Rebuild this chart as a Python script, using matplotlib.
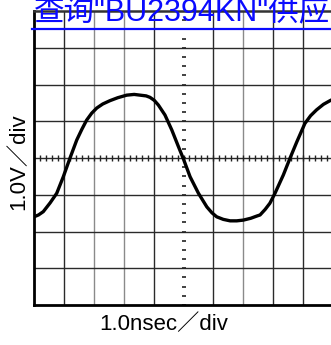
import matplotlib
matplotlib.use("Agg")
import numpy as np
import matplotlib.pyplot as plt
from matplotlib.lines import Line2D

plt.rcParams['font.family'] = ['Liberation Sans', 'Noto Sans CJK SC', 'DejaVu Sans']

# waveform, in divisions (x: 1.0 ns/div, y: 1.0 V/div)
t_div = [0.00, 0.15, 0.31, 0.54, 0.76, 0.98, 1.20, 1.43, 1.60, 1.76, 1.93, 2.10,
         2.30, 2.54, 2.80, 3.10, 3.35, 3.55, 3.75, 3.88, 4.02, 4.16, 4.38, 4.61,
         4.83, 4.99, 5.22, 5.50, 5.78, 5.95, 6.11, 6.33, 6.56, 6.78, 7.00, 7.25,
         7.45, 7.56, 7.73, 7.89, 8.06, 8.34, 8.56, 8.79, 9.06, 9.25, 9.45, 9.68,
         9.90, 10.0]
v_div = [-1.60, -1.55, -1.46, -1.22, -0.96, -0.51, -0.01, 0.49, 0.78, 1.03, 1.22, 1.36,
         1.47, 1.56, 1.64, 1.71, 1.73, 1.71, 1.69, 1.65, 1.57, 1.44, 1.17, 0.76,
         0.31, -0.01, -0.51, -0.96, -1.33, -1.49, -1.60, -1.67, -1.71, -1.71, -1.69, -1.64,
         -1.58, -1.55, -1.40, -1.23, -0.96, -0.46, -0.01, 0.44, 0.94, 1.15, 1.31, 1.46,
         1.56, 1.60]

title = '查询"BU2394KN"供应'
xlabel = '1.0nsec／div'
ylabel = '1.0V／div'

# grid lines that came out lighter in the scan
light_cols = [2, 3, 7]

W, H = 331, 345
fig = plt.figure(figsize=(W / 100, H / 100), dpi=100)
ax = fig.add_axes([34 / W, 1 - 305 / H, 299 / W, 294 / H])
ax.set_xlim(0, 10)
ax.set_ylim(-4, 4)

for i in range(1, 10):
    if i == 5:
        continue
    c = '#8a8a8a' if i in light_cols else '#2a2a2a'
    ax.axvline(i, color=c, lw=1.0, zorder=1)
for j in range(-3, 4):
    ax.axhline(j, color='#2a2a2a', lw=1.0, zorder=1)

# centre graticule with small ticks
xt = np.arange(0, 10.01, 0.2)
ax.plot(xt, np.zeros_like(xt), ls='none', marker='|', ms=4, mew=1.0, color='#222222', zorder=2)
yt = np.arange(-4, 4.01, 0.25)
ax.plot(np.full_like(yt, 5), yt, ls='none', marker='_', ms=3.5, mew=1.2, color='#222222', zorder=2)

ax.plot(t_div, v_div, color='black', lw=2.4, solid_capstyle='round', zorder=3)

for side in ['left', 'bottom']:
    ax.spines[side].set_linewidth(2.0)
    ax.spines[side].set_color('black')
ax.spines['top'].set_linewidth(1.8)
ax.spines['top'].set_color('#333333')
ax.spines['right'].set_visible(False)
ax.set_xticks([])
ax.set_yticks([])

fig.text(99 / W, 1 - 325 / H, xlabel, fontsize=16, ha='left', va='center')
fig.text(19 / W, 1 - 162 / H, ylabel, fontsize=16, rotation=90, ha='center', va='center')

fig.text(34 / W, 1 - 20 / H, title, fontsize=22, color='#0a0aff', ha='left', va='baseline')
fig.add_artist(Line2D([32 / W, 1.0], [1 - 29 / H, 1 - 29 / H], color='#0a0aff', lw=1.6))

fig.savefig('out.png', dpi=100)
